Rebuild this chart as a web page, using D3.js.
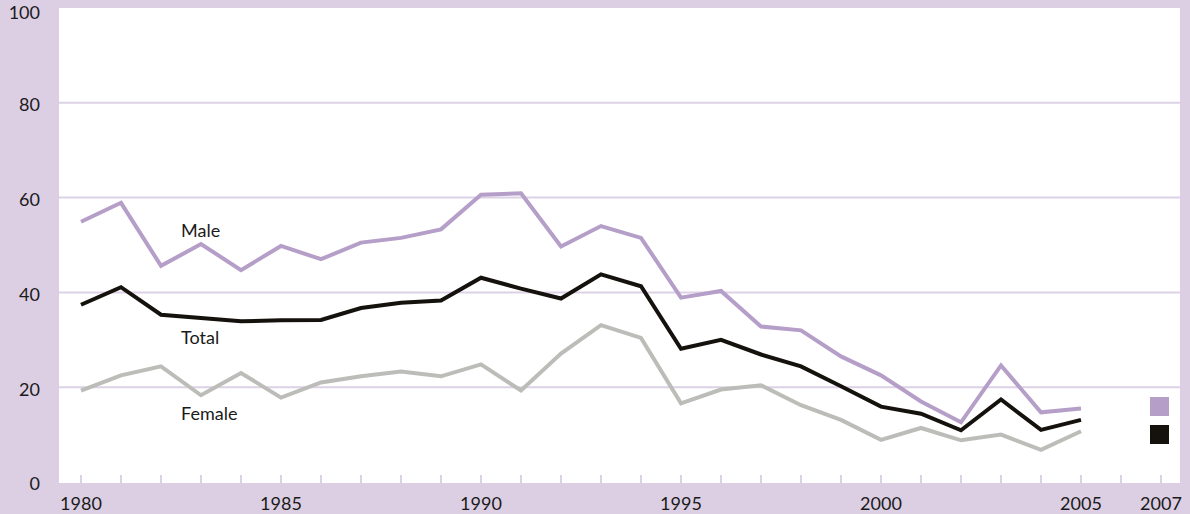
<!DOCTYPE html>
<html>
<head>
<meta charset="utf-8">
<script src="https://cdn.jsdelivr.net/npm/d3@7"></script>
<style>
    body { margin: 0; background: #dccfe3; }
    svg { display: block; }
</style>
</head>
<body>
<div id="chart"></div>
<script>
var years = [1980, 1981, 1982, 1983, 1984, 1985, 1986, 1987, 1988, 1989, 1990, 1991, 1992,
    1993, 1994, 1995, 1996, 1997, 1998, 1999, 2000, 2001, 2002, 2003, 2004, 2005];
var male = [54.9, 58.9, 45.6, 50.2, 44.7, 49.8, 47.0, 50.5, 51.5, 53.3, 60.6, 60.9, 49.7,
    54.0, 51.5, 38.9, 40.3, 32.8, 32.0, 26.5, 22.5, 17.0, 12.6, 24.6, 14.7, 15.5];
var total = [37.4, 41.1, 35.3, 34.6, 33.9, 34.1, 34.2, 36.7, 37.8, 38.3, 43.1, 40.8, 38.7,
    43.8, 41.3, 28.1, 30.0, 26.9, 24.4, 20.2, 15.9, 14.4, 10.9, 17.4, 11.0, 13.1];
var female = [19.3, 22.5, 24.4, 18.3, 23.0, 17.8, 21.0, 22.3, 23.3, 22.3, 24.8, 19.3, 27.1,
    33.1, 30.4, 16.6, 19.5, 20.4, 16.2, 13.1, 8.9, 11.4, 8.8, 10.0, 6.8, 10.7];
var yTicks = [0, 20, 40, 60, 80, 100];
var xLabels = [1980, 1985, 1990, 1995, 2000, 2005, 2007];
var legendKeys = ["male", "total"];

function chart() {
    var width = 1190,
        height = 514;

    var colors = {
        male: "#b59fc8",
        total: "#15120e",
        female: "#bcbcb8",
        bg: "#dccfe3",
        grid: "#ddd1e6"
    };

    var x = d3.scaleLinear().domain([1980, 2007]).range([81, 1161]);
    var y = d3.scaleLinear().domain([0, 100]).range([482, 8]);

    var svg = d3.select("#chart").append("svg")
        .attr("width", width)
        .attr("height", height)
        .style("font-family", "Lato, 'Open Sans', sans-serif");

    svg.append("rect")
        .attr("width", width)
        .attr("height", height)
        .attr("fill", colors.bg);

    // white plot panel
    svg.append("rect")
        .attr("x", 59)
        .attr("y", y(100))
        .attr("width", 1180 - 59)
        .attr("height", y(0) - y(100) + 1)
        .attr("fill", "#fff");

    svg.selectAll(".grid")
        .data(yTicks.filter(function (d) { return d > 0 && d < 100; }))
        .enter().append("line")
        .attr("class", "grid")
        .attr("x1", 59)
        .attr("x2", 1180)
        .attr("y1", function (d) { return y(d); })
        .attr("y2", function (d) { return y(d); })
        .attr("stroke", colors.grid)
        .attr("stroke-width", 2);

    // small year ticks standing on the baseline
    var yearTicks = d3.range(1980, 2008);
    svg.selectAll(".ytick")
        .data(yearTicks)
        .enter().append("line")
        .attr("class", "ytick")
        .attr("x1", function (d) { return x(d); })
        .attr("x2", function (d) { return x(d); })
        .attr("y1", y(0) - 7)
        .attr("y2", y(0) + 1)
        .attr("stroke", colors.grid)
        .attr("stroke-width", 2);

    svg.selectAll(".ylabel")
        .data(yTicks)
        .enter().append("text")
        .attr("class", "ylabel")
        .attr("x", 40)
        .attr("y", function (d) { return Math.max(y(d) + 2, 13); })
        .attr("dy", "0.35em")
        .style("text-anchor", "end")
        .style("font-size", "18px")
        .attr("fill", "#1b1a1a")
        .text(function (d) { return d; });

    svg.selectAll(".xlabel")
        .data(xLabels)
        .enter().append("text")
        .attr("class", "xlabel")
        .attr("x", function (d) { return x(d); })
        .attr("y", 510)
        .style("text-anchor", "middle")
        .style("font-size", "18px")
        .attr("fill", "#1b1a1a")
        .text(function (d) { return d; });

    var line = d3.line()
        .x(function (d) { return x(d[0]); })
        .y(function (d) { return y(d[1]); });

    var series = [
        { name: "female", values: female },
        { name: "male", values: male },
        { name: "total", values: total }
    ];

    svg.selectAll(".series")
        .data(series)
        .enter().append("path")
        .attr("class", "series")
        .attr("fill", "none")
        .attr("stroke", function (d) { return colors[d.name]; })
        .attr("stroke-width", 4)
        .attr("stroke-linejoin", "miter")
        .attr("d", function (d) {
            return line(years.map(function (yr, i) { return [yr, d.values[i]]; }));
        });

    var labels = [
        { text: "Male", yr: 1982.5, v: 51.7 },
        { text: "Total", yr: 1982.5, v: 29.1 },
        { text: "Female", yr: 1982.5, v: 13.1 }
    ];

    svg.selectAll(".slabel")
        .data(labels)
        .enter().append("text")
        .attr("class", "slabel")
        .attr("x", function (d) { return x(d.yr); })
        .attr("y", function (d) { return y(d.v); })
        .style("font-size", "18px")
        .attr("fill", "#1b1a1a")
        .text(function (d) { return d.text; });

    // legend swatches at the right
    svg.selectAll(".key")
        .data(legendKeys)
        .enter().append("rect")
        .attr("class", "key")
        .attr("x", 1150)
        .attr("y", function (d, i) { return 397 + i * 28; })
        .attr("width", 19)
        .attr("height", 19)
        .attr("fill", function (d) { return colors[d]; });
}

chart();
</script>
</body>
</html>
